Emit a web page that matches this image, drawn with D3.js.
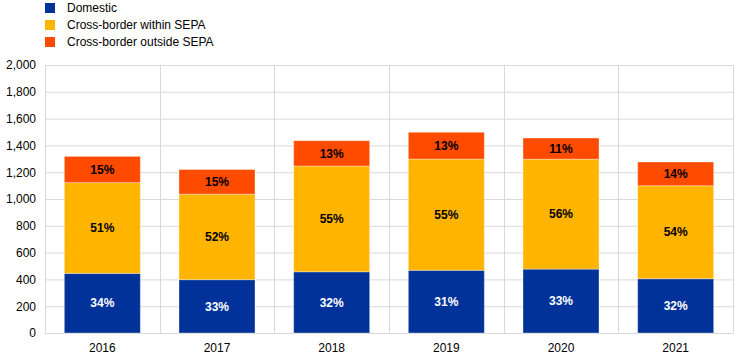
<!DOCTYPE html>
<html>
<head>
<meta charset="utf-8">
<script src="https://cdn.jsdelivr.net/npm/d3@7"></script>
<style>
    body { margin: 0; background: #fff; }
    svg { font-family: Arial, "Liberation Sans", sans-serif; }
    .tick text { font-size: 12px; fill: #000; }
    .legend text { font-size: 12px; fill: #000; }
    .bar-label { font-size: 12px; font-weight: bold; }
</style>
</head>
<body>
<svg width="744" height="362"></svg>
<script>
const years = ['2016', '2017', '2018', '2019', '2020', '2021'];
const domestic = [445, 398, 457, 468, 477, 405];
const withinSepa = [677, 638, 789, 830, 820, 694];
const outsideSepa = [196, 184, 189, 200, 158, 177];
const shareLabels = [
    ['34%', '33%', '32%', '31%', '33%', '32%'],
    ['51%', '52%', '55%', '55%', '56%', '54%'],
    ['15%', '15%', '13%', '13%', '11%', '14%']
];
const seriesNames = ['Domestic', 'Cross-border within SEPA', 'Cross-border outside SEPA'];
const yTicks = [0, 200, 400, 600, 800, 1000, 1200, 1400, 1600, 1800, 2000];

const colors = ['#003299', '#ffb400', '#ff4b00'];
const labelColors = ['#fff', '#000', '#000'];

const svg = d3.select('svg');
const margin = { top: 65, right: 11, bottom: 29, left: 45 };
const innerWidth = +svg.attr('width') - margin.left - margin.right;
const innerHeight = +svg.attr('height') - margin.top - margin.bottom;

// build rows for the stack from the named arrays
const keys = ['domestic', 'within', 'outside'];
const rows = years.map((y, i) => ({
    year: y, domestic: domestic[i], within: withinSepa[i], outside: outsideSepa[i]
}));
const stacked = d3.stack().keys(keys)(rows);

const xScale = d3.scaleBand()
    .domain(years)
    .range([0, innerWidth])
    .paddingInner(0)
    .paddingOuter(0);

const yScale = d3.scaleLinear()
    .domain([0, 2000])
    .range([innerHeight, 0]);

const g = svg.append('g')
    .attr('transform', `translate(${margin.left},${margin.top})`);

// horizontal gridlines + y labels
const yAxisG = g.append('g')
    .call(d3.axisLeft(yScale)
        .tickValues(yTicks)
        .tickFormat(d3.format(','))
        .tickSize(-innerWidth)
        .tickPadding(9));
yAxisG.select('.domain').remove();
yAxisG.selectAll('.tick line').attr('stroke', '#d9d9d9').attr('stroke-width', 1);

// vertical gridlines between categories
const bounds = years.map(y => xScale(y)).concat([innerWidth]);
g.selectAll('.vgrid').data(bounds)
    .enter().append('line')
    .attr('class', 'vgrid')
    .attr('x1', d => Math.round(d) + 0.5)
    .attr('x2', d => Math.round(d) + 0.5)
    .attr('y1', 0)
    .attr('y2', innerHeight)
    .attr('stroke', '#d9d9d9');

// x axis labels
const xAxisG = g.append('g')
    .attr('transform', `translate(0,${innerHeight})`)
    .call(d3.axisBottom(xScale).tickSize(0).tickPadding(10));
xAxisG.select('.domain').attr('stroke', '#d9d9d9');

// bars
const barWidth = 76;
const barOffset = (xScale.bandwidth() - barWidth) / 2;

const layers = g.selectAll('.layer').data(stacked)
    .enter().append('g')
    .attr('class', 'layer')
    .attr('fill', (d, i) => colors[i]);

layers.selectAll('rect').data(d => d)
    .enter().append('rect')
    .attr('x', d => xScale(d.data.year) + barOffset)
    .attr('y', d => yScale(d[1]))
    .attr('width', barWidth)
    .attr('height', d => yScale(d[0]) - yScale(d[1]))
    .attr('stroke', '#fff')
    .attr('stroke-opacity', 0.35)
    .attr('stroke-width', 1);

// share labels
stacked.forEach((layer, li) => {
    g.selectAll('.lbl' + li).data(layer)
        .enter().append('text')
        .attr('class', 'bar-label')
        .attr('x', d => xScale(d.data.year) + xScale.bandwidth() / 2)
        .attr('y', d => (yScale(d[0]) + yScale(d[1])) / 2)
        .attr('dy', '0.35em')
        .attr('text-anchor', 'middle')
        .attr('fill', labelColors[li])
        .text((d, i) => shareLabels[li][i]);
});

// legend
const legend = svg.append('g').attr('class', 'legend');
seriesNames.forEach((name, i) => {
    const row = legend.append('g').attr('transform', `translate(45,${3 + i * 17})`);
    row.append('rect')
        .attr('width', 10).attr('height', 10)
        .attr('fill', colors[i]);
    row.append('text')
        .attr('x', 22).attr('y', 5)
        .attr('dy', '0.35em')
        .text(name);
});
</script>
</body>
</html>
